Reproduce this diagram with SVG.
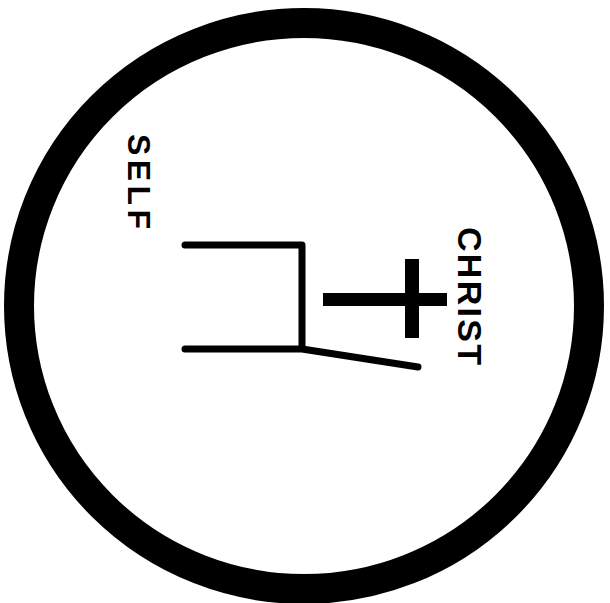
<svg xmlns="http://www.w3.org/2000/svg" width="610" height="603" viewBox="0 0 610 603">
<style>
.lbl{font-family:"Liberation Sans",Arial,sans-serif;font-weight:bold;fill:#000}
.ln{fill:none;stroke:#000;stroke-width:7;stroke-linecap:round;stroke-linejoin:round}
</style>
<rect width="610" height="603" fill="#fff"/>
<g id="ring"><ellipse cx="304" cy="306" rx="285" ry="283" fill="none" stroke="#000" stroke-width="30"/></g>
<g id="self-label"><text class="lbl" font-size="32" transform="translate(127.5,134) rotate(90)" textLength="95" lengthAdjust="spacing">SELF</text></g>
<g id="christ-label"><text class="lbl" font-size="34" transform="translate(458,227) rotate(90)" textLength="138" lengthAdjust="spacing">CHRIST</text></g>
<g id="self"><path class="ln" d="M185,245 H302 V349 H185 M302,349 L418,367"/></g>
<g id="cross"><rect x="323" y="293" width="124" height="13" fill="#000"/><rect x="405" y="259" width="14" height="79" fill="#000"/></g>
</svg>
